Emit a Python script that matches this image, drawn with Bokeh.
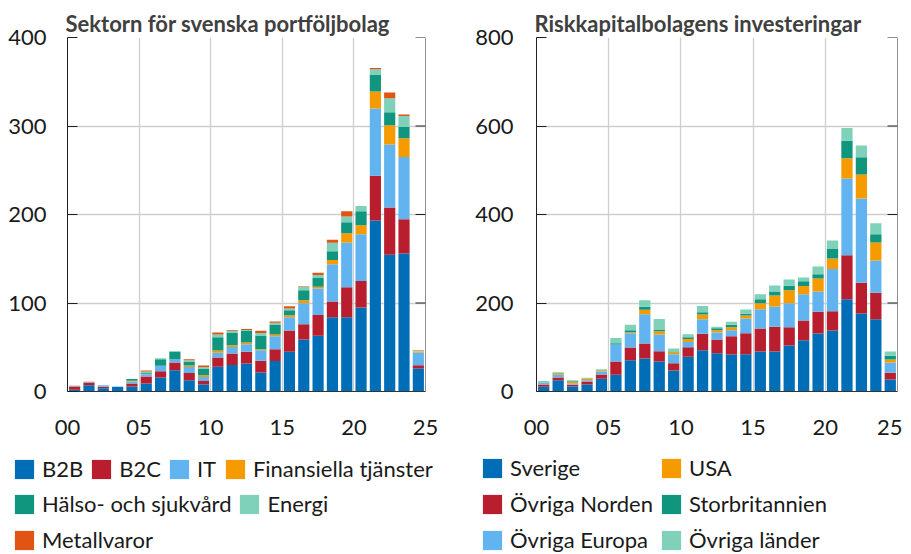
from bokeh.plotting import figure
from bokeh.models import FixedTicker, Legend, LegendItem, Range1d, Span
from bokeh.layouts import column, row
from bokeh.embed import file_html
from bokeh.resources import INLINE

years = list(range(2000, 2025))
x_ticks = [0, 5, 10, 15, 20, 25]
x_tick_labels = ["00", "05", "10", "15", "20", "25"]

# Left chart: sectors of Swedish portfolio companies
sector_names = ["B2B", "B2C", "IT", "Finansiella tjänster", "Hälso- och sjukvård", "Energi", "Metallvaror"]
b2b = [2, 7, 3.8, 5, 5.6, 9, 15.8, 24, 12.8, 8, 28, 30, 31.6, 21.5, 34.6, 44.8, 58.8, 62.9, 84, 84, 94.9, 193.2, 154.4, 155.9, 26]
b2c = [3, 2.5, 1.5, 0, 3.4, 8, 7.2, 8.7, 8, 4, 10.5, 12.8, 13.2, 13.2, 13.2, 24, 17.3, 23.4, 17.7, 33.9, 30, 50.5, 53.5, 38.8, 3.8]
it = [1, 1, 1.9, 0.6, 2.3, 2.6, 6, 3.8, 7, 4.5, 5.3, 7.5, 8.7, 12, 14.7, 15, 23.7, 30, 42, 50.5, 52.7, 76, 71.2, 70.4, 14.3]
fin = [0, 0, 0, 0, 0.8, 0.5, 0, 0, 1.5, 2, 2.6, 2, 2, 1, 1.9, 2.3, 3.4, 2, 4.9, 10.5, 10.2, 19.2, 21.8, 21.1, 1]
health = [0, 0, 0, 0, 1.9, 1.5, 7.5, 8.3, 4, 6.8, 15, 14.3, 13, 15, 11.3, 5.6, 11.3, 10, 9.8, 12.4, 15.8, 18.8, 14.7, 12.8, 0]
energy = [0, 0, 0, 0, 0, 1, 1, 1, 2, 2, 3, 2, 1, 3.4, 2, 2, 3.8, 3.4, 9.8, 6.4, 6, 6.4, 15.8, 12.4, 1]
metal = [0.5, 0.5, 0, 0, 0, 1.1, 0, 0, 1, 2, 2.3, 1, 1, 2.6, 1.5, 2.6, 0.5, 2.6, 3.4, 6, 0, 1.5, 6.4, 1.5, 0.5]
left_y_ticks = [0, 100, 200, 300, 400]

# Right chart: investments by investor origin
origin_names = ["Sverige", "Övriga Norden", "Övriga Europa", "USA", "Storbritannien", "Övriga länder"]
sverige = [11, 25.6, 11.3, 15.8, 28.6, 37.7, 70.8, 74.6, 67.8, 47.5, 78.3, 93.4, 86.6, 83.6, 84.4, 90.4, 90.4, 104, 116, 131, 137.9, 208.7, 176.3, 163.5, 27.1]
norden = [5, 6, 3.8, 6.8, 9.8, 30, 28.6, 33.9, 23.4, 16.6, 21.8, 36.9, 30.9, 41.4, 47.5, 52, 55.7, 41.4, 44.4, 49, 43.7, 99.4, 69.3, 59.5, 15]
europa = [4, 6, 3.8, 3, 6.8, 38.4, 32.4, 66.3, 37.7, 20.3, 12, 33.1, 15.8, 13.6, 33.1, 43.7, 46, 54.2, 59.5, 46, 95, 173.3, 190.6, 73.1, 23.4]
usa = [0.5, 3.8, 3.8, 3, 2.3, 0, 2.3, 9.8, 7.5, 4.5, 6.8, 10.5, 5.3, 6.8, 6.8, 13.6, 24.9, 29.4, 18.8, 29.4, 24.1, 46, 54.2, 40.7, 6.8]
uk = [0.5, 0.5, 1.5, 1, 0.5, 3, 4.5, 6.8, 3.8, 0.5, 3.8, 5.3, 4.5, 5.3, 3.8, 9, 9, 9.8, 10.5, 9.8, 21.1, 39.2, 39.2, 18.8, 8.3]
other = [3, 1.5, 1.5, 1.5, 2.3, 12, 12, 15, 23.4, 7.5, 6.8, 14.3, 3, 6.8, 9.8, 11.3, 13.6, 14.3, 8.3, 17.3, 19.6, 28.6, 26.4, 24.9, 9.8]
right_y_ticks = [0, 200, 400, 600, 800]

sector_colors = ["#006eb7", "#b81e2d", "#62b4f0", "#f59b00", "#10957f", "#7fd1b9", "#e05414"]
origin_colors = ["#006eb7", "#b81e2d", "#62b4f0", "#f59b00", "#10957f", "#7fd1b9"]

FONT = "Lato"
TXT = "#1a1a1a"
AXIS = "#222222"
TICK_PX = 10


def make_chart(title, series, names, colors, y_ticks, width, border_left, border_right, frame_w, label_standoff):
    p = figure(width=width, height=447, output_backend="svg", toolbar_location=None,
               x_range=Range1d(0, 25), y_range=Range1d(y_ticks[0], y_ticks[-1]),
               min_border_left=border_left, min_border_right=border_right,
               min_border_top=37, min_border_bottom=56, title=title)
    p.title.text_font = FONT
    p.title.text_font_style = "bold"
    p.title.text_font_size = "22px"
    p.title.text_color = "#404040"
    p.title.standoff = 2
    p.title.offset = -2
    p.outline_line_color = None
    p.background_fill_color = "white"
    p.border_fill_color = "white"

    data = {"x": [y - years[0] + 0.5 for y in years]}
    for n, s in zip(names, series):
        data[n] = s
    p.vbar_stack(names, x="x", width=0.78, source=data, fill_color=colors, line_color=None)

    # bottom axis
    xa = p.xaxis[0]
    xa.ticker = FixedTicker(ticks=x_ticks)
    xa.major_label_overrides = {t: l for t, l in zip(x_ticks, x_tick_labels)}
    xa.major_tick_in = 0
    xa.major_tick_out = 0
    xa.minor_tick_line_color = None
    xa.axis_line_color = "#333333"
    xa.major_label_text_font = FONT
    xa.major_label_text_font_size = "22px"
    xa.major_label_text_color = TXT
    xa.major_label_standoff = 28

    # left axis with inward ticks
    ya = p.yaxis[0]
    ya.ticker = FixedTicker(ticks=y_ticks)
    ya.major_tick_in = TICK_PX
    ya.major_tick_out = 0
    ya.minor_tick_line_color = None
    ya.axis_line_color = AXIS
    ya.major_tick_line_color = AXIS
    ya.major_label_text_font = FONT
    ya.major_label_text_font_size = "22px"
    ya.major_label_text_color = TXT
    ya.major_label_standoff = label_standoff

    # right frame line with inward ticks (no labels)
    x_end = p.x_range.end
    tick_len = (p.x_range.end - p.x_range.start) * TICK_PX / frame_w
    p.add_layout(Span(location=x_end, dimension="height", line_color=AXIS, line_width=1))
    p.segment(x0=[x_end] * len(y_ticks), x1=[x_end - tick_len] * len(y_ticks),
              y0=y_ticks, y1=y_ticks, line_color=AXIS, line_width=1)

    p.xgrid.ticker = FixedTicker(ticks=[5, 10, 15, 20])
    p.ygrid.ticker = FixedTicker(ticks=y_ticks[1:])
    for g in (p.xgrid[0], p.ygrid[0]):
        g.grid_line_color = "#cfcfcf"
        g.grid_line_width = 1.3
    return p


left = make_chart("Sektorn för svenska portföljbolag",
                  [b2b, b2c, it, fin, health, energy, metal], sector_names, sector_colors,
                  left_y_ticks, 467, 67, 42, 358, 21)
right = make_chart("Riskkapitalbolagens investeringar",
                   [sverige, norden, europa, usa, uk, other], origin_names, origin_colors,
                   right_y_ticks, 435, 69, 5, 361, 23)

# Legend panel
lf = figure(width=902, height=106, output_backend="svg", toolbar_location=None,
            x_range=Range1d(0, 1), y_range=Range1d(0, 1), min_border=0)
lf.axis.visible = False
lf.grid.visible = False
lf.outline_line_color = None


def dummy(color):
    # zero-height swatch renderer; only its legend entry shows
    return lf.vbar(x=[0.5], top=[0], bottom=[0], width=0, fill_color=color, line_color=None)


def make_legend(items, loc, orientation, spacing):
    lg = Legend(items=items, location=loc, orientation=orientation,
                glyph_width=24, glyph_height=24, label_height=24,
                label_standoff=6, spacing=spacing, padding=0, margin=0,
                border_line_color=None, background_fill_alpha=0,
                label_text_font=FONT, label_text_font_size="22px", label_text_color=TXT)
    lf.add_layout(lg, "center")
    return lg


sec_items = [LegendItem(label=n, renderers=[dummy(c)]) for n, c in zip(sector_names, sector_colors)]
make_legend(sec_items[0:4], (12, 71), "horizontal", 6)
make_legend(sec_items[4:6], (12, 36), "horizontal", 6)
make_legend(sec_items[6:7], (12, 0), "horizontal", 6)

org_items = [LegendItem(label=n, renderers=[dummy(c)]) for n, c in zip(origin_names, origin_colors)]
make_legend(org_items[0:3], (480, 0), "vertical", 9)
make_legend(org_items[3:6], (659, 0), "vertical", 9)

layout = column(row(left, right, spacing=0), lf, spacing=0)
open("out.html", "w").write(file_html(layout, INLINE))
